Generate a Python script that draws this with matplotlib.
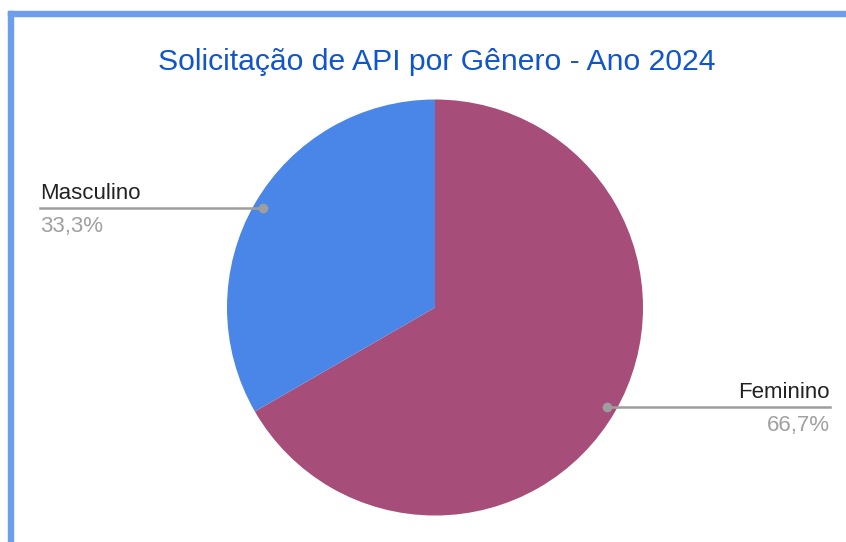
import matplotlib.pyplot as plt
import matplotlib.transforms as mtransforms
from matplotlib.patches import Rectangle
import numpy as np

plt.rcParams['font.family'] = ['Liberation Sans', 'DejaVu Sans']

# dados
generos = ['Feminino', 'Masculino']
solicitacoes = [2, 1]
cores = ['#a64d79', '#4a86e8']
titulo = 'Solicitação de API por Gênero - Ano 2024'

W, H = 846, 542
fig = plt.figure(figsize=(W / 100, H / 100), dpi=100)

# moldura azul (borda de seleção)
fig.patches.append(Rectangle((8 / W, 0), 5 / W, (H - 11) / H, transform=fig.transFigure,
                             color='#6d9eeb', zorder=0))
fig.patches.append(Rectangle((8 / W, (H - 16) / H), (W - 8) / W, 5 / H, transform=fig.transFigure,
                             color='#6d9eeb', zorder=0))

# pizza centrada em (435, 307.5) com raio 208 px
cx, cy, r = 435, 307.5, 208
ax = fig.add_axes([(cx - r) / W, (H - cy - r) / H, 2 * r / W, 2 * r / H])
wedges, _ = ax.pie(solicitacoes, colors=cores, startangle=90, counterclock=False,
                   wedgeprops=dict(linewidth=0))
ax.set_xlim(-1, 1)
ax.set_ylim(-1, 1)
ax.set_aspect('equal')
ax.axis('off')

fig.text(437 / W, 1 - 62 / H, titulo, ha='center', va='center', fontsize=21.7, color='#1155cc')

total = sum(solicitacoes)
blend = mtransforms.blended_transform_factory(fig.transFigure, ax.transData)
for w, nome, v in zip(wedges, generos, solicitacoes):
    ang = np.deg2rad((w.theta1 + w.theta2) / 2)
    x, y = 0.957 * np.cos(ang), 0.957 * np.sin(ang)
    ax.plot(x, y, 'o', color='#9e9e9e', markersize=6, zorder=5, clip_on=False)
    pct = f'{100 * v / total:.1f}%'.replace('.', ',')
    if x < 0:
        xe, ha = 40 / W, 'left'
    else:
        xe, ha = 830 / W, 'right'
    xd = fig.transFigure.inverted().transform(ax.transData.transform((x, y)))[0]
    ax.plot([xe, xd], [y, y], color='#9e9e9e', lw=1.8, transform=blend, clip_on=False, zorder=4)
    ax.annotate(nome, (xe, y), xycoords=blend, xytext=(0, 9), textcoords='offset pixels',
                ha=ha, va='baseline', fontsize=16, color='#222222')
    ax.annotate(pct, (xe, y), xycoords=blend, xytext=(0, -24), textcoords='offset pixels',
                ha=ha, va='baseline', fontsize=16, color='#a0a0a0')

fig.savefig('out.png', dpi=100, facecolor='white')
